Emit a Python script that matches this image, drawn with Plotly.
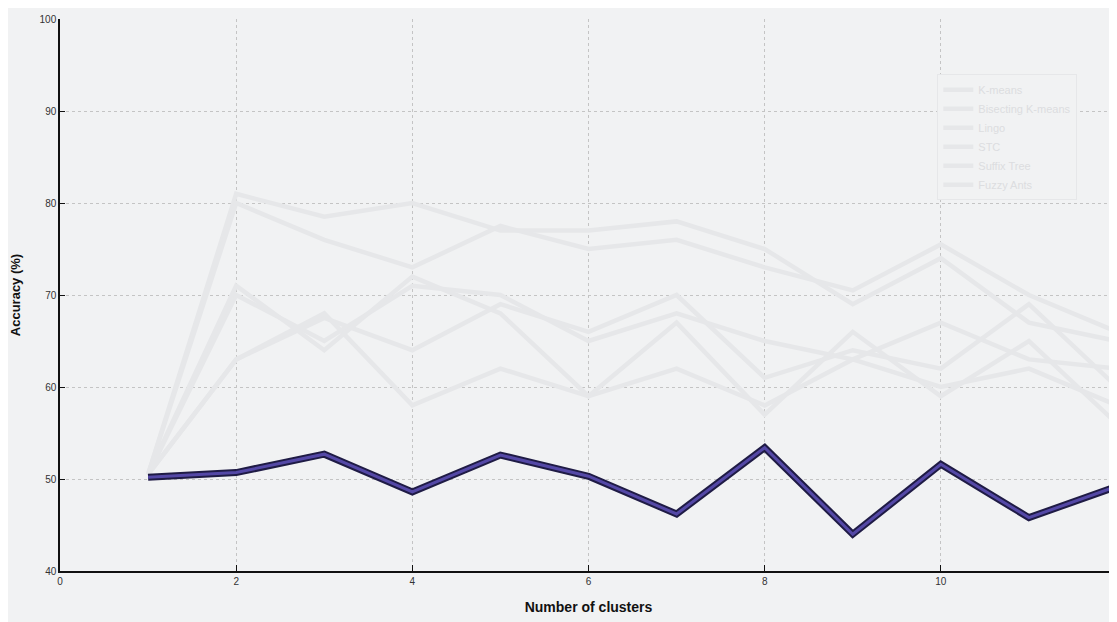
import plotly.graph_objects as go

clusters = [1, 2, 3, 4, 5, 6, 7, 8, 9, 10, 11, 12]

main_name = "Proposed"
main_acc = [50.2, 50.7, 52.7, 48.6, 52.6, 50.3, 46.2, 53.4, 44.0, 51.6, 45.8, 49.2]

faded_names = ["K-means", "Bisecting K-means", "Lingo", "STC", "Suffix Tree", "Fuzzy Ants"]
faded_1 = [50.5, 81.0, 78.5, 80.0, 77.0, 77.0, 78.0, 75.0, 69.0, 74.0, 67.0, 65.0]
faded_2 = [50.5, 80.0, 76.0, 73.0, 77.5, 75.0, 76.0, 73.0, 70.5, 75.5, 70.0, 66.0]
faded_3 = [50.5, 70.0, 65.0, 71.0, 70.0, 65.0, 68.0, 65.0, 63.0, 67.0, 63.0, 62.0]
faded_4 = [50.5, 63.0, 67.5, 64.0, 69.0, 66.0, 70.0, 61.0, 64.0, 62.0, 69.0, 60.0]
faded_5 = [50.5, 63.0, 68.0, 58.0, 62.0, 59.0, 62.0, 58.0, 63.0, 60.0, 62.0, 58.0]
faded_6 = [50.5, 71.0, 64.0, 72.0, 68.0, 59.0, 67.0, 57.0, 66.0, 59.0, 65.0, 56.0]
faded_series = [faded_1, faded_2, faded_3, faded_4, faded_5, faded_6]

x_ticks = [0, 2, 4, 6, 8, 10, 12]
y_ticks = [40, 50, 60, 70, 80, 90, 100]

bg = "#f1f2f3"
fig = go.Figure()

for name, vals in zip(faded_names, faded_series):
    fig.add_trace(go.Scatter(x=clusters, y=vals, mode="lines", name=name,
                             line=dict(color="#e6e7e9", width=4.5)))

fig.add_trace(go.Scatter(x=clusters, y=main_acc, mode="lines", name=main_name,
                         line=dict(color="#1f1b45", width=7), showlegend=False))
fig.add_trace(go.Scatter(x=clusters, y=main_acc, mode="lines", name=main_name,
                         line=dict(color="#5448a6", width=3), showlegend=False))

tickfont = dict(family="Liberation Sans Narrow, Arial Narrow, Liberation Sans, sans-serif",
                size=10, color="#333333")

fig.update_layout(
    width=1109, height=614,
    margin=dict(l=52, r=0, t=11, b=51),
    paper_bgcolor=bg, plot_bgcolor=bg,
    showlegend=True,
    legend=dict(x=0.83, y=0.90, xanchor="left", yanchor="top",
                bgcolor=bg, bordercolor="#e6e7e9", borderwidth=1,
                font=dict(family="Liberation Sans, Arial, sans-serif", size=11, color="#dcdde0")),
    xaxis=dict(range=[0, 12], tickvals=x_ticks, ticks="inside", ticklen=6,
               tickcolor="#111111", showline=True, linecolor="#111111", linewidth=1.5,
               showgrid=True, gridcolor="#c4c4c4", griddash="dot", gridwidth=1,
               zeroline=False, tickfont=tickfont,
               title=dict(text="<b>Number of clusters</b>", standoff=16,
                          font=dict(family="Liberation Sans, Arial, sans-serif", size=14, color="#111111"))),
    yaxis=dict(range=[40, 100], tickvals=y_ticks, ticks="inside", ticklen=5,
               tickcolor="#111111", showline=True, linecolor="#111111", linewidth=1.5,
               showgrid=True, gridcolor="#c4c4c4", griddash="dot", gridwidth=1,
               zeroline=False, tickfont=tickfont,
               title=dict(text="<b>Accuracy (%)</b>", standoff=20,
                          font=dict(family="Liberation Sans, Arial, sans-serif", size=13, color="#111111"))),
)

fig.write_html("out.html")
